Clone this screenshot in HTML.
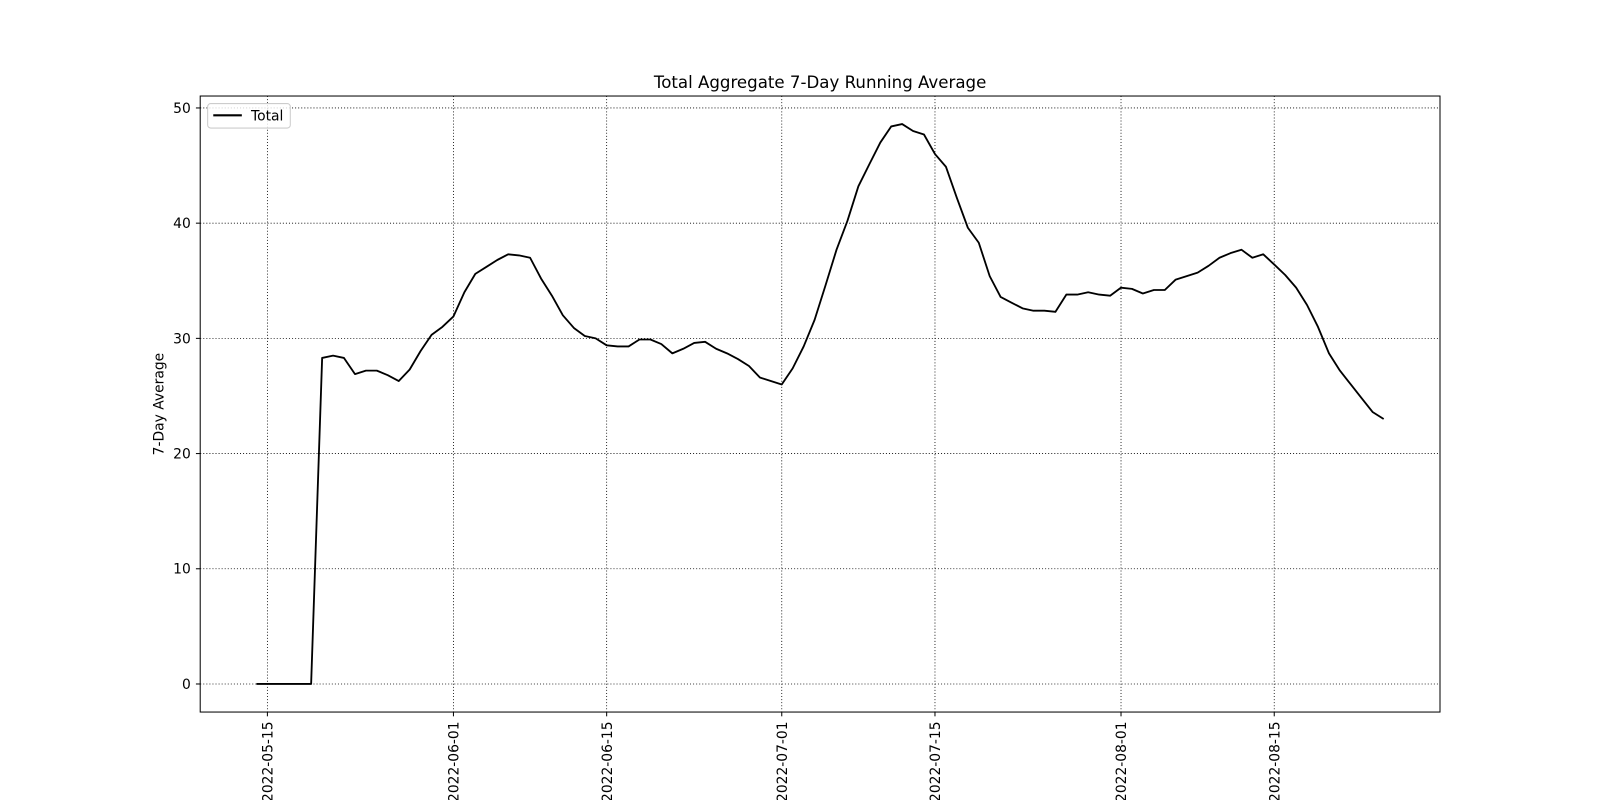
<!DOCTYPE html>
<html><head><meta charset="utf-8"><style>
body{margin:0;background:#fff;}
svg{display:block;font-family:"DejaVu Sans","Liberation Sans",sans-serif;}
</style></head><body>
<svg id="chart" width="1600" height="800" viewBox="0 0 1568 784">
<rect x="0" y="0" width="1568" height="784" fill="#fff"/>
<text x="803.7" y="86" font-size="16.3" text-anchor="middle">Total Aggregate 7-Day Running Average</text>
<text x="0" y="0" font-size="13.6" text-anchor="middle" transform="translate(160,396) rotate(-90)">7-Day Average</text>
<g id="grid"></g><g id="ticks"></g><g id="series"></g>
<rect x="196.2" y="94.1" width="1215" height="603.7" fill="none" stroke="#000" stroke-width="1"/>
<g>
<rect x="203.5" y="101.5" width="81" height="24" rx="3" fill="#fff" fill-opacity="0.8" stroke="#ccc"/>
<line x1="209" y1="113" x2="237" y2="113" stroke="#000" stroke-width="2"/>
<text x="246" y="118" font-size="13.6">Total</text>
</g>
</svg>
<script>
const startDate = "2022-05-14";
const values = [0,0,0,0,0,0,28.3,28.5,28.3,26.9,27.2,27.2,26.8,26.3,27.3,28.9,30.3,31.0,31.9,34.0,35.6,36.2,36.8,37.3,37.2,37.0,35.2,33.7,32.0,30.9,30.2,30.0,29.4,29.3,29.3,29.9,29.9,29.5,28.7,29.1,29.6,29.7,29.1,28.7,28.2,27.6,26.6,26.3,26.0,27.4,29.3,31.6,34.6,37.7,40.2,43.2,45.1,47.0,48.4,48.6,48.0,47.7,46.0,44.9,42.2,39.6,38.3,35.4,33.6,33.1,32.6,32.4,32.4,32.3,33.8,33.8,34.0,33.8,33.7,34.4,34.3,33.9,34.2,34.2,35.1,35.4,35.7,36.3,37.0,37.4,37.7,37.0,37.3,36.4,35.5,34.4,32.9,31.0,28.7,27.2,26.0,24.8,23.6,23.0];
const xTickLabels = ["2022-05-15","2022-06-01","2022-06-15","2022-07-01","2022-07-15","2022-08-01","2022-08-15"];
const yTickValues = [0,10,20,30,40,50];

const NS="http://www.w3.org/2000/svg";
const DAY=86400000;
const refT=Date.UTC(2022,4,15);
function toT(s){const p=s.split("-");return Date.UTC(+p[0],+p[1]-1,+p[2]);}
function xScale(t){return 262.05+(t-refT)/DAY*10.725;}
function yScale(v){return 670.3-v*11.29;}
function mk(tag,attrs,parent){const e=document.createElementNS(NS,tag);for(const k in attrs)e.setAttribute(k,attrs[k]);parent.appendChild(e);return e;}
const grid=document.getElementById("grid"),ticks=document.getElementById("ticks"),series=document.getElementById("series");
yTickValues.forEach(v=>{
  const y=yScale(v);
  const g=mk("line",{x1:196.2,x2:1411.2,y1:y,y2:y,stroke:"#000","stroke-width":0.8,"stroke-dasharray":"1,2"},grid);
  
  
  mk("line",{x1:192,x2:196.2,y1:y,y2:y,stroke:"#000"},ticks);
  const t=mk("text",{x:187,y:y+4.8,"font-size":13.6,"text-anchor":"end"},ticks);
  t.textContent=v;
  
  
});
xTickLabels.forEach(s=>{
  const x=xScale(toT(s));
  const g=mk("line",{x1:x,x2:x,y1:94.1,y2:697.8,stroke:"#000","stroke-width":0.8,"stroke-dasharray":"1,2"},grid);
  
  
  mk("line",{x1:x,x2:x,y1:697.8,y2:702,stroke:"#000"},ticks);
  const t=mk("text",{x:0,y:0,"font-size":13.6,"text-anchor":"end",transform:`translate(${x+5},707) rotate(-90)`},ticks);
  t.textContent=s;
  
  
});
const t0=toT(startDate);
const pts=values.map((v,i)=>xScale(t0+i*DAY).toFixed(1)+","+yScale(v).toFixed(1)).join(" ");
const line=mk("polyline",{points:pts,fill:"none",stroke:"#000","stroke-width":1.8,"stroke-linejoin":"round"},series);


</script>
</body></html>
